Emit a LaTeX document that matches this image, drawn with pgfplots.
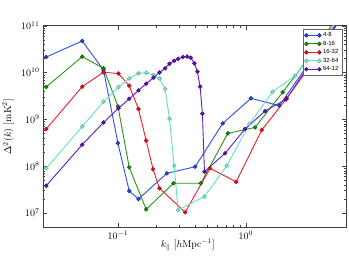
\documentclass[border=0pt]{standalone}
\usepackage{pgfplots}
\pgfplotsset{compat=1.18}
\usepackage{fontspec}
\newfontfamily\legfont{Liberation Sans}
\definecolor{cblue}{RGB}{45,75,235}
\definecolor{cgreen}{RGB}{34,150,20}
\definecolor{cred}{RGB}{250,25,35}
\definecolor{cteal}{RGB}{100,225,195}
\definecolor{cpurple}{RGB}{100,25,200}
\begin{document}
\begin{tikzpicture}
\path[use as bounding box] (-43bp,-34.3bp) rectangle (306bp,227.7bp);
\begin{axis}[
 at={(0,0)}, anchor=south west, scale only axis, width=303bp, height=202bp,
 xmode=log, ymode=log, xmin=0.02595, xmax=6.08, ymin=4.83e6, ymax=1e11,
 xtick={0.1,1}, ytick={1e7,1e8,1e9,1e10,1e11},
 axis line style={black!75}, tick style={black!75},
 major tick length=4.5bp, minor tick length=2.5bp,
 xlabel={$k_\parallel\ [h\mathrm{Mpc}^{-1}]$},
 ylabel={$\Delta^2(k)\ [\mathrm{mK}^2]$},
 x label style={at={(axis description cs:0.478,-0.086)}, anchor=center},
 y label style={at={(axis description cs:-0.1155,0.5)}, anchor=center},
 legend style={at={(axis description cs:0.987,0.984)}, anchor=north east,
   font=\legfont\fontsize{6}{7}\selectfont, draw=black!60, fill=white,
   row sep=-1.2bp, inner sep=1.5bp, cells={anchor=west}},
 legend cell align=left,
 legend image code/.code={\draw[#1] plot coordinates {(0bp,0bp) (13bp,0bp)};},
 every axis plot/.append style={line width=0.9bp, mark=*, mark size=1.7bp},
]
\addplot[cblue, mark options={draw=cblue!70!black, fill=cblue}] coordinates {
(0.0275,2.14e10) (0.0526,4.71e10) (0.0772,1.13e10) (0.100,3.1e8) (0.1226,2.94e7)
(0.1449,1.98e7) (0.2415,7.0e7) (0.402,9.7e7) (0.661,8.2e8) (1.099,2.81e9)
(1.83,1.95e9) (3.0,1.36e10) (5.2,1.2e11)};
\addlegendentry{4-8}
\addplot[cgreen, mark options={draw=cgreen!70!black, fill=cgreen}] coordinates {
(0.0275,4.9e9) (0.0526,2.18e10) (0.0772,1.23e10) (0.100,1.9e9) (0.1226,9.4e7)
(0.1664,1.19e7) (0.2720,4.3e7) (0.4450,4.3e7) (0.7236,5.0e8) (1.182,6.7e8)
(1.945,3.78e9) (3.0,1.8e10) (5.0,1.3e11)};
\addlegendentry{8-16}
\addplot[cred, mark options={draw=cred!70!black, fill=cred}] coordinates {
(0.0275,6.2e8) (0.0526,4.98e9) (0.0772,1.01e10) (0.101,9.5e9) (0.1226,5.2e9)
(0.1449,1.66e9) (0.1664,3.5e8) (0.1885,8.55e7) (0.2113,3.36e7) (0.3358,1.03e7)
(0.526,9.0e7) (0.840,4.6e7) (1.334,5.9e8) (2.09,2.8e9) (3.2,1.4e10) (5.3,1.2e11)};
\addlegendentry{16-32}
\addplot[cteal, mark options={draw=cteal!85!black, fill=cteal!30!white}] coordinates {
(0.0275,8.97e7) (0.0526,7.0e8) (0.0772,2.38e9) (0.101,4.9e9) (0.1226,7.45e9)
(0.1449,9.6e9) (0.1664,9.9e9) (0.1897,8.85e9) (0.2113,7.45e9) (0.2342,4.44e9)
(0.2531,1.03e9) (0.2754,1.02e8) (0.2958,1.15e7) (0.4753,2.24e7) (0.7107,1.02e8)
(1.067,7.9e8) (1.62,3.87e9) (2.43,8.55e9) (5.2,1.3e11)};
\addlegendentry{32-64}
\addplot[cpurple, mark options={draw=cpurple!70!black, fill=cpurple}] coordinates {
(0.0275,3.81e7) (0.0526,2.87e8) (0.0772,8.55e8) (0.101,1.72e9) (0.1226,2.74e9)
(0.1449,4.15e9) (0.1664,5.77e9) (0.1897,7.71e9) (0.2113,1.0e10) (0.2342,1.23e10)
(0.2531,1.54e10) (0.2754,1.78e10) (0.2958,1.96e10) (0.322,2.14e10) (0.3478,2.18e10)
(0.3715,2.07e10) (0.3963,1.57e10) (0.4187,1.04e10) (0.4393,5.0e9) (0.4581,1.32e9)
(0.4753,7.6e7) (0.689,1.88e8) (0.987,6.2e8) (1.416,1.5e9) (2.07,2.67e9)
(3.1,1.4e10) (5.3,1.2e11)};
\addlegendentry{64-12}
\end{axis}
\end{tikzpicture}
\end{document}
